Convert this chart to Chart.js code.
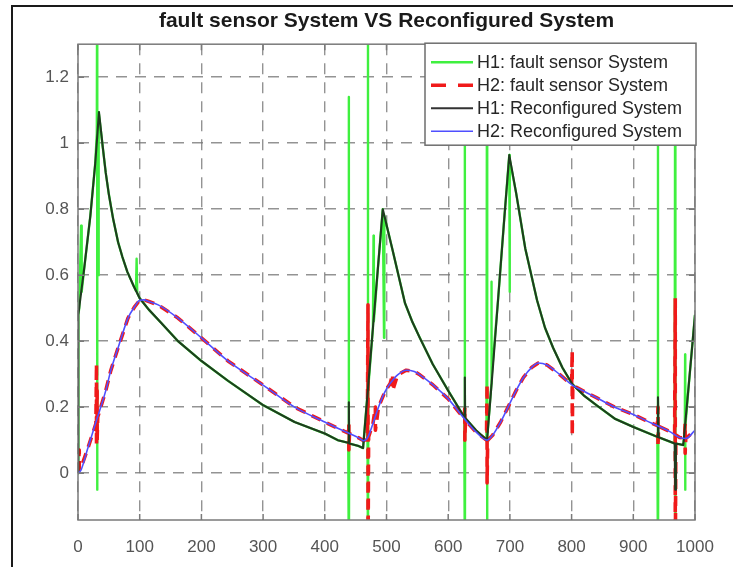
<!DOCTYPE html>
<html>
<head>
<meta charset="utf-8">
<script src="https://cdn.jsdelivr.net/npm/chart.js@4.4.1/dist/chart.umd.min.js"></script>
<style>
  html, body { margin: 0; padding: 0; background: #fff; overflow: hidden; }
  #wrap { position: relative; width: 733px; height: 567px; }
  #frame { position: absolute; left: 11px; top: 5px; width: 760px; height: 600px;
           border-left: 2px solid #1a1a1a; border-top: 2px solid #1a1a1a; pointer-events: none; }
</style>
</head>
<body>
<div id="wrap">
  <canvas id="c" width="733" height="567"></canvas>
  <div id="frame"></div>
</div>
<script>
// ---------------- data ----------------
const chartTitle = 'fault sensor System VS Reconfigured System';
const seriesLabels = ['H1: fault sensor System', 'H2: fault sensor System', 'H1: Reconfigured System', 'H2: Reconfigured System'];

const xTickValues = [0, 100, 200, 300, 400, 500, 600, 700, 800, 900, 1000];
const xTickLabels = ['0', '100', '200', '300', '400', '500', '600', '700', '800', '900', '1000'];
const yTickValues = [0, 0.2, 0.4, 0.6, 0.8, 1, 1.2];
const yTickLabels = ['0', '0.2', '0.4', '0.6', '0.8', '1', '1.2'];

// H1: fault sensor System (green)
const h1FaultX = [0, 0.5, 2, 5, 6, 10, 20, 28, 30.5, 31, 31, 31.5, 32.5, 33, 33.5, 34, 40, 45, 50, 57, 65, 72, 80, 90, 94, 95, 96, 100, 115, 135, 162, 200, 243, 300, 351, 400, 421, 438, 439, 439, 439.5, 440, 455, 462, 469, 470, 470, 470.5, 478, 479, 479.5, 486, 494, 496, 496.5, 510, 530, 542, 554, 575, 600, 626, 627, 627, 627.5, 645, 662, 663, 663, 663.5, 670, 670, 670.5, 681, 690, 699, 699.5, 700, 710, 725, 744, 757, 770, 785, 801, 820, 841, 870, 900, 939, 940, 940, 940.5, 960, 967, 968, 968, 968.5, 981, 983.5, 984, 984, 984.5, 990, 1000];
const h1FaultY = [0, 0.48, 0.5, 0.75, 0.55, 0.62, 0.78, 0.94, 1.03, 1.5, -0.05, 1.03, 1.06, 0.6, 1.08, 1.094, 0.99, 0.91, 0.845, 0.77, 0.70, 0.655, 0.61, 0.568, 0.552, 0.65, 0.546, 0.53, 0.495, 0.455, 0.40, 0.34, 0.28, 0.206, 0.155, 0.12, 0.10, 0.092, 1.14, -0.3, 0.09, 0.09, 0.082, 0.076, 0.235, 1.5, -0.3, 0.26, 0.44, 0.72, 0.46, 0.62, 0.80, 0.41, 0.78, 0.675, 0.515, 0.458, 0.41, 0.33, 0.25, 0.17, 1.5, -0.3, 0.167, 0.13, 0.10, 1.5, -0.3, 0.11, 0.27, 0.58, 0.29, 0.53, 0.75, 0.964, 0.55, 0.95, 0.85, 0.68, 0.524, 0.44, 0.38, 0.32, 0.27, 0.235, 0.205, 0.165, 0.14, 0.11, 1.5, -0.3, 0.109, 0.095, 0.09, 1.5, -0.3, 0.09, 0.085, 0.13, 0.36, -0.05, 0.14, 0.27, 0.48];

// H2: fault sensor System (red dashed)
const h2FaultX = [0, 2, 2, 4, 15, 29, 30, 30, 31, 31, 32, 45, 53, 65, 81, 92, 100, 107, 115, 130, 162, 200, 243, 300, 351, 400, 421, 438, 439, 439, 440, 455, 463, 469, 470, 470, 471, 478, 482, 482, 487, 497, 506, 510, 510, 518, 532, 545, 554, 575, 600, 626, 627, 627, 628, 645, 662, 663, 663, 664, 672, 685, 697, 710, 722, 735, 746, 760, 780, 800, 801, 801, 802, 820, 841, 870, 900, 920, 939, 940, 940, 941, 960, 967, 968, 968, 969, 975, 983, 984, 984, 985, 1000];
const h2FaultY = [0, 0.07, 0.01, 0.012, 0.07, 0.15, 0.33, 0.08, 0.25, 0.1, 0.17, 0.25, 0.31, 0.38, 0.47, 0.505, 0.524, 0.525, 0.52, 0.51, 0.47, 0.41, 0.34, 0.267, 0.2, 0.155, 0.136, 0.121, 0.15, 0.07, 0.12, 0.107, 0.098, 0.105, 0.51, -0.3, 0.11, 0.15, 0.2, 0.13, 0.2, 0.245, 0.272, 0.3, 0.25, 0.298, 0.312, 0.308, 0.298, 0.268, 0.225, 0.165, 0.2, 0.1, 0.16, 0.125, 0.1, 0.27, -0.03, 0.1, 0.115, 0.155, 0.2, 0.25, 0.29, 0.32, 0.334, 0.328, 0.3, 0.268, 0.37, 0.115, 0.266, 0.248, 0.228, 0.2, 0.178, 0.16, 0.144, 0.2, 0.08, 0.142, 0.125, 0.118, 0.53, -0.3, 0.116, 0.108, 0.106, 0.15, 0.06, 0.105, 0.13];

// H1: Reconfigured System (black)
const h1ReconfX = [0, 0.5, 10, 20, 28, 34, 40, 45, 50, 57, 65, 72, 80, 90, 100, 115, 135, 162, 200, 243, 300, 351, 400, 421, 438, 439, 439.5, 440, 455, 462, 470, 478, 486, 494, 510, 530, 542, 554, 575, 600, 626, 627, 627.5, 645, 663, 672, 681, 690, 699, 710, 725, 744, 757, 770, 785, 801, 820, 841, 870, 900, 939, 940, 941, 960, 967, 968, 969, 981, 990, 1000];
const h1ReconfY = [0, 0.48, 0.62, 0.78, 0.94, 1.094, 0.99, 0.91, 0.845, 0.77, 0.70, 0.655, 0.61, 0.568, 0.53, 0.495, 0.455, 0.40, 0.34, 0.28, 0.206, 0.155, 0.12, 0.10, 0.092, 0.215, 0.09, 0.09, 0.082, 0.076, 0.257, 0.44, 0.62, 0.80, 0.675, 0.515, 0.458, 0.41, 0.33, 0.25, 0.17, 0.29, 0.167, 0.13, 0.10, 0.31, 0.53, 0.75, 0.964, 0.85, 0.68, 0.524, 0.44, 0.38, 0.32, 0.27, 0.235, 0.205, 0.165, 0.14, 0.11, 0.23, 0.109, 0.095, 0.09, -0.05, 0.09, 0.085, 0.27, 0.48];

// H2: Reconfigured System (blue)
const h2ReconfX = [0, 5, 15, 30, 45, 53, 65, 81, 92, 100, 107, 115, 130, 162, 200, 243, 300, 351, 400, 421, 440, 455, 463, 470, 478, 487, 497, 506, 518, 532, 545, 554, 575, 600, 627, 645, 663, 672, 685, 697, 710, 722, 735, 746, 760, 780, 801, 820, 841, 870, 900, 920, 940, 960, 975, 985, 1000];
const h2ReconfY = [0, 0.01, 0.07, 0.16, 0.25, 0.31, 0.38, 0.47, 0.505, 0.524, 0.525, 0.52, 0.51, 0.47, 0.41, 0.34, 0.267, 0.2, 0.155, 0.136, 0.12, 0.107, 0.098, 0.11, 0.15, 0.2, 0.245, 0.272, 0.298, 0.312, 0.308, 0.298, 0.268, 0.225, 0.163, 0.125, 0.1, 0.115, 0.155, 0.2, 0.25, 0.29, 0.32, 0.334, 0.328, 0.3, 0.267, 0.248, 0.228, 0.2, 0.178, 0.16, 0.143, 0.125, 0.108, 0.105, 0.13];

const pts = (xs, ys) => xs.map((x, i) => ({ x: x, y: ys[i] }));

// ---------------- plugins ----------------
const axesBoxPlugin = {
  id: 'axesBox',
  afterDatasetsDraw(chart) {
    const { ctx, chartArea: a, scales } = chart;
    ctx.save();
    ctx.strokeStyle = '#7a7a7a';
    ctx.lineWidth = 1.5;
    ctx.setLineDash([]);
    const tl = 6;
    ctx.beginPath();
    scales.x.ticks.forEach(t => {
      const px = scales.x.getPixelForValue(t.value);
      ctx.moveTo(px, a.bottom); ctx.lineTo(px, a.bottom - tl);
      ctx.moveTo(px, a.top); ctx.lineTo(px, a.top + tl);
    });
    scales.y.ticks.forEach(t => {
      const py = scales.y.getPixelForValue(t.value);
      ctx.moveTo(a.left, py); ctx.lineTo(a.left + tl, py);
      ctx.moveTo(a.right, py); ctx.lineTo(a.right - tl, py);
    });
    ctx.stroke();
    ctx.strokeRect(a.left, a.top, a.right - a.left, a.bottom - a.top);
    ctx.restore();
  },
  afterDraw(chart) {
    const { ctx, chartArea: a } = chart;
    const w = 271, h = 102;
    const left = a.right - w + 1, top = a.top - 1;
    ctx.save();
    ctx.fillStyle = '#ffffff';
    ctx.fillRect(left, top, w, h);
    ctx.strokeStyle = '#6e6e6e';
    ctx.lineWidth = 1.5;
    ctx.setLineDash([]);
    ctx.strokeRect(left, top, w, h);
    ctx.font = '18px "Liberation Sans", Arial, sans-serif';
    ctx.textBaseline = 'middle';
    ctx.fillStyle = '#262626';
    chart.data.datasets.forEach((ds, i) => {
      const cy = top + 19 + i * 23;
      ctx.save();
      ctx.strokeStyle = ds.legendColor || ds.borderColor;
      ctx.lineWidth = ds.borderWidth;
      ctx.setLineDash(ds.legendDash || []);
      ctx.beginPath();
      ctx.moveTo(left + 6, cy);
      ctx.lineTo(left + 48, cy);
      ctx.stroke();
      ctx.restore();
      ctx.fillText(ds.label, left + 52, cy + 1);
    });
    ctx.restore();
  }
};

// ---------------- chart ----------------
new Chart(document.getElementById('c'), {
  type: 'line',
  data: {
    datasets: [
      { label: seriesLabels[0], data: pts(h1FaultX, h1FaultY), borderColor: '#3ff03f', borderWidth: 2.4, order: 4 },
      { label: seriesLabels[1], data: pts(h2FaultX, h2FaultY), borderColor: '#f01a1a', borderWidth: 3.6, borderDash: [10, 7], legendDash: [15, 12], order: 3 },
      { label: seriesLabels[2], data: pts(h1ReconfX, h1ReconfY), borderColor: '#1f3b1f', legendColor: '#333333', borderWidth: 2.1, order: 2 },
      { label: seriesLabels[3], data: pts(h2ReconfX, h2ReconfY), borderColor: '#4f4fff', borderWidth: 1.6, cubicInterpolationMode: 'monotone', order: 1 }
    ]
  },
  options: {
    responsive: false,
    animation: false,
    events: [],
    layout: { padding: { left: 0, right: 38, top: 0, bottom: 0 } },
    elements: {
      point: { radius: 0, hoverRadius: 0 },
      line: { tension: 0, fill: false, borderCapStyle: 'butt', borderJoinStyle: 'round' }
    },
    datasets: { line: { clip: 0 } },
    plugins: {
      legend: { display: false },
      tooltip: { enabled: false },
      title: {
        display: true,
        text: chartTitle,
        fullSize: false,
        color: '#1a1a1a',
        font: { family: '"Liberation Sans", Arial, sans-serif', size: 21, weight: 'bold', lineHeight: 1.2 },
        padding: { top: 9, bottom: 10 }
      }
    },
    scales: {
      x: {
        type: 'linear',
        min: 0,
        max: 1000,
        afterFit(scale) { scale.height = 47; },
        afterBuildTicks(scale) { scale.ticks = xTickValues.map(v => ({ value: v })); },
        ticks: {
          autoSkip: false,
          maxRotation: 0,
          padding: 17,
          color: '#555555',
          font: { family: '"Liberation Sans", Arial, sans-serif', size: 17 },
          callback: (v, i) => xTickLabels[i]
        },
        grid: { color: 'rgba(120,120,120,0.8)', lineWidth: 1.4, drawTicks: false },
        border: { display: false, dash: [11, 8] }
      },
      y: {
        type: 'linear',
        min: -0.142,
        max: 1.3,
        afterFit(scale) { scale.width = 78; },
        afterBuildTicks(scale) { scale.ticks = yTickValues.map(v => ({ value: v })); },
        ticks: {
          autoSkip: false,
          padding: 9,
          color: '#555555',
          font: { family: '"Liberation Sans", Arial, sans-serif', size: 17 },
          callback: (v, i) => yTickLabels[i]
        },
        grid: { color: 'rgba(120,120,120,0.8)', lineWidth: 1.4, drawTicks: false },
        border: { display: false, dash: [11, 8] }
      }
    }
  },
  plugins: [axesBoxPlugin]
});
</script>
</body>
</html>
